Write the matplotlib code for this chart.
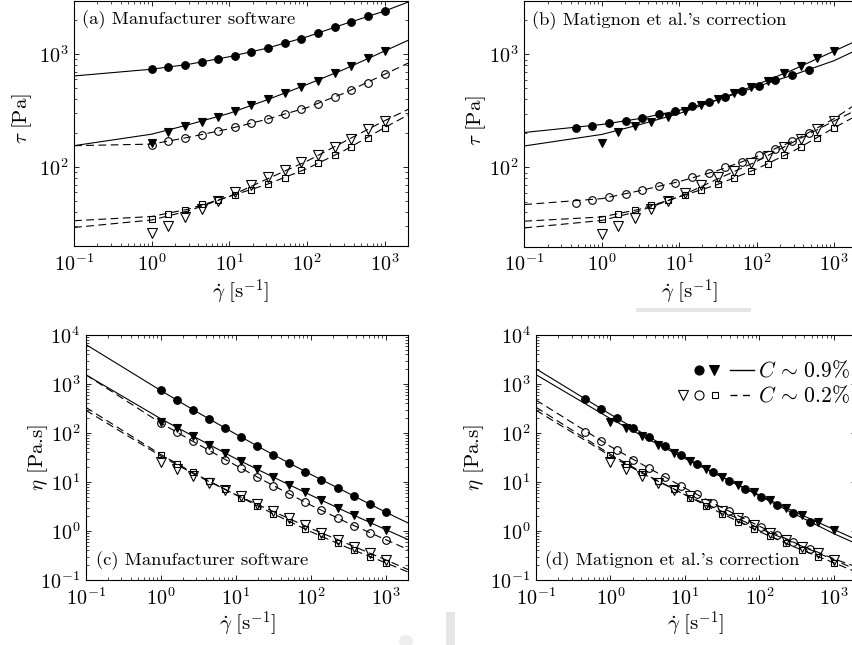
import numpy as np
import matplotlib
matplotlib.use('Agg')
import matplotlib.pyplot as plt
from matplotlib.patches import Rectangle, Ellipse

plt.rcParams['mathtext.fontset'] = 'cm'
plt.rcParams['font.family'] = 'serif'
plt.rcParams['font.serif'] = ['cmr10']
plt.rcParams['axes.formatter.use_mathtext'] = True
plt.rcParams['axes.unicode_minus'] = False

# ---------------- data ----------------
# shear rates [1/s]
gd_std = [1.0, 1.64, 2.68, 4.39, 7.2, 11.8, 19.3, 31.6, 51.8, 84.8, 139, 228, 373, 611, 1000]
gd_corr = [0.459, 0.753, 1.235, 2.03, 3.32, 5.45, 8.95, 14.7, 24.1, 39.5, 64.8, 106, 174, 286, 470]

# shear stress [Pa]
tau_fc_a = [741, 768, 805, 855, 909, 973, 1049, 1138, 1251, 1376, 1545, 1746, 1946, 2183, 2416]
tau_ft = [165, 204, 232, 252, 281, 315, 354, 400, 452, 518, 585, 679, 794, 922, 1070]
tau_oc_a = [158, 169, 181, 193, 207, 226, 245, 268, 296, 328, 366, 419, 480, 553, 670]
tau_ot = [26, 30.3, 36.1, 42.5, 50.4, 59.7, 69.8, 81.6, 93.5, 110, 127, 152, 177, 217, 259]
tau_os = [34.9, 38.4, 41.9, 46.8, 51.4, 56.9, 63.0, 71.2, 80.5, 93.5, 108, 129, 152, 183, 224]
tau_fc_b = [224, 234, 245, 259, 275, 295, 316, 349, 381, 422, 473, 524, 593, 656, 726]
tau_oc_b = [48.6, 51.1, 54.3, 58.4, 62.9, 68.3, 73.6, 82.6, 89.6, 100, 111, 128, 146, 170, 202]

# fitted curves sampled at these shear rates
fit_x = [0.1, 1, 3, 10, 30, 100, 300, 1000, 2000]
fit_fc_a = [643, 738, 816, 952, 1130, 1430, 1852, 2420, 2900]
fit_ft = [155, 196, 238, 300, 393, 540, 735, 1070, 1330]
fit_oc_a = [155, 160, 184, 219, 265, 337, 452, 665, 835]
fit_ot = [29.2, 34, 41, 55, 78, 113, 168, 258, 325]
fit_os = [33.5, 36.5, 42.5, 55, 70, 97, 140, 224, 290]
fit_fc_b = [204, 240, 270, 320, 392, 518, 660, 880, 1100]
fit_oc_b = [47, 53, 62, 75, 93, 125, 172, 270, 370]

panel_titles = ["(a) Manufacturer software", "(b) Matignon et al.'s correction",
                "(c) Manufacturer software", "(d) Matignon et al.'s correction"]
legend_labels = [r"$C\,\sim\,0.9\%$", r"$C\,\sim\,0.2\%$"]
xlabel_txt = r"$\dot{\gamma}\ [\mathrm{s}^{-1}]$"
tau_txt = r"$\tau\ [\mathrm{Pa}]$"
eta_txt = r"$\eta$ [Pa.s]"

# ---------------- figure ----------------
W, H = 852, 645
fig = plt.figure(figsize=(W / 100, H / 100), dpi=100)

def axes_px(l, t, r, b):
    return fig.add_axes([l / W, 1 - b / H, (r - l) / W, (b - t) / H])

ax_a = axes_px(74, 0.5, 408, 246)
ax_b = axes_px(524.3, 0.5, 857.3, 246.5)
ax_c = axes_px(85.7, 335, 408.3, 580)
ax_d = axes_px(536, 335, 856.4, 580)

dash = (0, (7, 4))
styles = {
    'fc': dict(marker='o', ms=5.5, mfc='k', ls='-'),
    'ft': dict(marker='v', ms=6, mfc='k', ls='-'),
    'oc': dict(marker='o', ms=5.5, mfc='none', ls=dash),
    'ot': dict(marker='v', ms=6.5, mfc='none', ls=dash),
    'os': dict(marker='s', ms=4, mfc='none', ls=dash),
}

def draw(ax, series, eta):
    for key, x, y, fy in series:
        st = styles[key]
        x = np.asarray(x, float)
        y = np.asarray(y, float)
        fx = np.asarray(fit_x, float)
        fy = np.asarray(fy, float)
        if eta:
            y = y / x
            fy = fy / fx
        ax.plot(fx, fy, color='k', lw=0.8, ls=st['ls'], zorder=2)
        ax.plot(x, y, ls='none', marker=st['marker'], ms=st['ms'], mfc=st['mfc'],
                mec='k', mew=0.8, zorder=3)

series_a = [('fc', gd_std, tau_fc_a, fit_fc_a), ('ft', gd_std, tau_ft, fit_ft),
            ('oc', gd_std, tau_oc_a, fit_oc_a), ('ot', gd_std, tau_ot, fit_ot),
            ('os', gd_std, tau_os, fit_os)]
series_b = [('fc', gd_corr, tau_fc_b, fit_fc_b), ('ft', gd_std, tau_ft, fit_ft),
            ('oc', gd_corr, tau_oc_b, fit_oc_b), ('ot', gd_std, tau_ot, fit_ot),
            ('os', gd_std, tau_os, fit_os)]

draw(ax_a, series_a, False)
draw(ax_b, series_b, False)
draw(ax_c, series_a, True)
draw(ax_d, series_b, True)

for ax in (ax_a, ax_b, ax_c, ax_d):
    ax.set_xscale('log')
    ax.set_yscale('log')
    ax.set_xlim(0.1, 2000)
    ax.tick_params(which='both', direction='in', top=True, right=True, labelsize=14.5)
    ax.tick_params(which='major', length=3.5, width=0.6)
    ax.tick_params(which='minor', length=2, width=0.5)
    ax.tick_params(axis='x', pad=5)
    ax.tick_params(axis='y', pad=4)
    for s in ax.spines.values():
        s.set_linewidth(0.8)
    ax.set_xticks([0.1, 1, 10, 100, 1000])

for ax in (ax_a, ax_b):
    ax.set_ylim(20, 3000)
    ax.set_yticks([100, 1000])
for ax in (ax_c, ax_d):
    ax.set_ylim(0.1, 1e4)
    ax.set_yticks([0.1, 1, 10, 100, 1000, 10000])

# axis labels
for (px, py) in [(241, 292), (690, 292), (248, 624), (696, 624)]:
    fig.text(px / W, 1 - py / H, xlabel_txt, ha='center', va='center', fontsize=15)
for (px, py) in [(22, 119), (476, 121)]:
    fig.text(px / W, 1 - py / H, tau_txt, ha='center', va='center', rotation=90, fontsize=15)
for (px, py) in [(38, 458), (474, 458)]:
    fig.text(px / W, 1 - py / H, eta_txt, ha='center', va='center', rotation=90, fontsize=15)

# panel titles
ax_a.text(0.024, 0.92, panel_titles[0], transform=ax_a.transAxes, ha='left', va='center', fontsize=13.4)
ax_b.text(0.023, 0.92, panel_titles[1], transform=ax_b.transAxes, ha='left', va='center', fontsize=13.4)
ax_c.text(0.032, 0.079, panel_titles[2], transform=ax_c.transAxes, ha='left', va='center', fontsize=13.4)
ax_d.text(0.028, 0.079, panel_titles[3], transform=ax_d.transAxes, ha='left', va='center', fontsize=13.4)

# manual legend in panel d
def dpx(px, py):
    return ((px - 536) / 320.4, (580 - py) / 245)

tr = ax_d.transAxes
for (px, mk, ms) in [(698.7, 'o', 6.5), (714, 'v', 7)]:
    ax_d.plot(*dpx(px, 370), marker=mk, ms=ms, mfc='k', mec='k', mew=0.8, transform=tr)
for (px, mk, ms) in [(682.7, 'v', 7), (698.7, 'o', 6.5), (714.7, 's', 4.8)]:
    ax_d.plot(*dpx(px, 395), marker=mk, ms=ms, mfc='none', mec='k', mew=0.8, transform=tr)
x0, y0 = dpx(730, 370)
x1, _ = dpx(754, 370)
ax_d.plot([x0, x1], [y0, y0], color='k', lw=1, transform=tr)
x0, y0 = dpx(730, 395)
ax_d.plot([x0, x1], [y0, y0], color='k', lw=1, ls=(0, (5, 4)), transform=tr)
ax_d.text(*dpx(757.5, 370), legend_labels[0], transform=tr, ha='left', va='center', fontsize=15.5)
ax_d.text(*dpx(757.5, 395), legend_labels[1], transform=tr, ha='left', va='center', fontsize=15.5)

# faint grey scan artefacts
for (l, t, w, h) in [(636, 308, 115, 4), (446, 612, 9, 33)]:
    fig.patches.append(Rectangle((l / W, 1 - (t + h) / H), w / W, h / H, transform=fig.transFigure,
                                 facecolor='#e6e6e6', edgecolor='none', zorder=-1))
fig.patches.append(Ellipse((406 / W, 1 - 641 / H), 14 / W, 12 / H, transform=fig.transFigure,
                           facecolor='#eeeeee', edgecolor='none', zorder=-1))

fig.savefig('out.png', dpi=100)
